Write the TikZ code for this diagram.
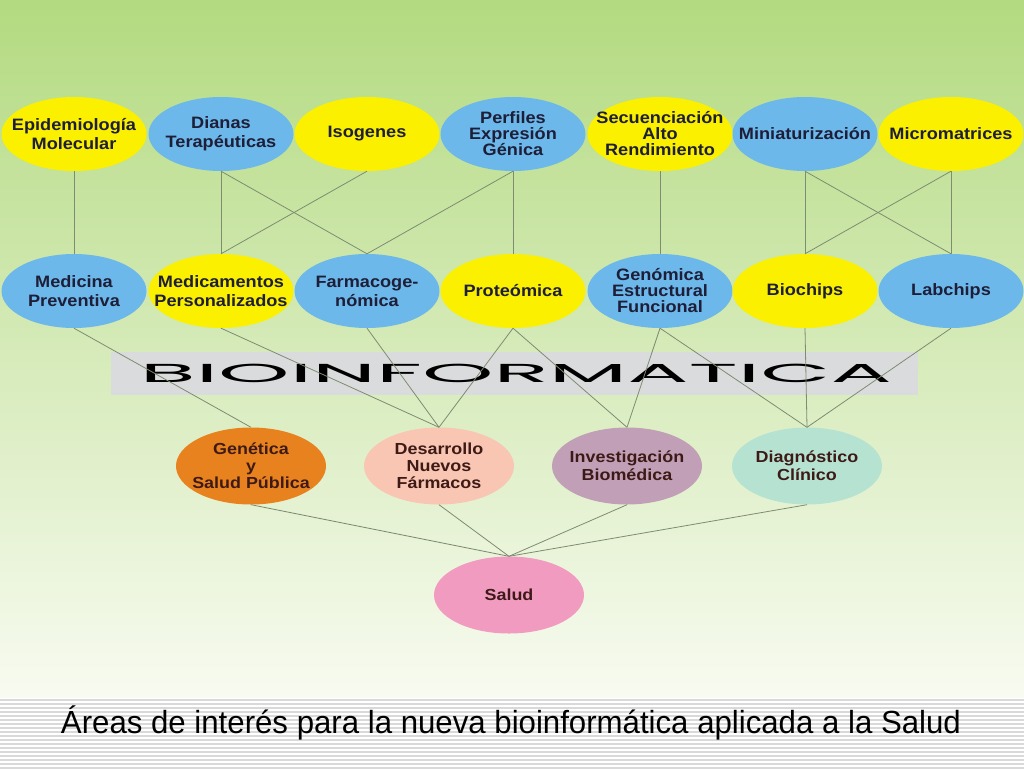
\documentclass[tikz,border=0pt]{standalone}
\usepackage{fontspec}
\usepackage{graphicx}
\usepackage{tikz}
\usetikzlibrary{shapes.geometric}
\setmainfont{Liberation Sans}
\newfontfamily\blobfont[FakeStretch=1.1]{Liberation Sans}
\newfontfamily\areafont[FakeStretch=1.12]{Liberation Sans}
\newfontfamily\bandfont{Poppins}
\definecolor{bgtop}{HTML}{B3DA80}
\definecolor{bgbot}{HTML}{F8FBF1}
\definecolor{yel}{HTML}{FAF000}
\definecolor{sky}{HTML}{6CB8EA}
\definecolor{naranja}{HTML}{E8821E}
\definecolor{salmon}{HTML}{F8C6B2}
\definecolor{malva}{HTML}{C1A0B7}
\definecolor{menta}{HTML}{B6E2D2}
\definecolor{rosa}{HTML}{F29BC1}
\definecolor{banda}{HTML}{DADBDC}
\definecolor{linea}{HTML}{7E8C72}
\definecolor{tinta}{HTML}{1E1E38}
\definecolor{marron}{HTML}{3E1A16}
\tikzset{
	blob/.style={% top and middle rows
		shape=ellipse,
		fill=#1,
		minimum width=145pt,
		minimum height=74pt,
		inner xsep=-24pt, inner ysep=0pt,
		text=tinta,
		align=center,
		font=\blobfont\bfseries\fontsize{16.5}{19}\selectfont
	},
	area/.style={% bottom rows
		shape=ellipse,
		fill=#1,
		minimum width=150pt,
		minimum height=77pt,
		inner xsep=-24pt, inner ysep=-6pt,
		text=marron,
		align=center,
		font=\areafont\bfseries\fontsize{16}{17}\selectfont
	},
	link/.style={draw=linea, line width=0.8pt},
	stripe/.style={draw=black!15, line width=1.5pt}
}
\begin{document}
\begin{tikzpicture}[x=1pt,y=-1pt]
	\useasboundingbox (0,0) rectangle (1024,768);
	\shade [top color=bgtop, bottom color=bgbot] (0,0) rectangle (1024,698);
	\fill [white] (0,698) rectangle (1024,768);
	\foreach \y in {700,704,...,768} \draw [stripe] (0,\y) -- (1024,\y);
	\fill [banda] (111,352) rectangle (918,395);
	\node [font=\bandfont\fontsize{26}{26}\selectfont] (bio) at (516,373) {\resizebox{752pt}{\height}{BIOINFORMATICA}};
	\node [anchor=base, font=\fontsize{32}{32}\selectfont] (titulo) at (511,733) {\resizebox{900pt}{\height}{Áreas de interés para la nueva bioinformática aplicada a la Salud}};
	\node [blob=yel] (t1) at (74,134) {Epidemiología\\Molecular};
	\node [blob=sky] (t2) at (221,134) {Dianas\\Terapéuticas};
	\node [blob=yel] (t3) at (367,134) {Isogenes};
	\node [blob=sky, font=\blobfont\bfseries\fontsize{16.5}{16}\selectfont] (t4) at (513,134) {Perfiles\\Expresión\\Génica};
	\node [blob=yel, font=\blobfont\bfseries\fontsize{16.5}{16}\selectfont] (t5) at (660,134) {Secuenciación\\Alto\\Rendimiento};
	\node [blob=sky] (t6) at (805,134) {Miniaturización};
	\node [blob=yel] (t7) at (951,134) {Micromatrices};
	\node [blob=sky] (m1) at (74,291) {Medicina\\Preventiva};
	\node [blob=yel] (m2) at (221,291) {Medicamentos\\Personalizados};
	\node [blob=sky] (m3) at (367,291) {Farmacoge-\\nómica};
	\node [blob=yel] (m4) at (513,291) {Proteómica};
	\node [blob=sky, font=\blobfont\bfseries\fontsize{16.5}{16}\selectfont] (m5) at (660,291) {Genómica\\Estructural\\Funcional};
	\node [blob=yel] (m6) at (805,291) {Biochips};
	\node [blob=sky] (m7) at (951,291) {Labchips};
	\node [area=naranja] (b1) at (251,466) {Genética\\y\\Salud Pública};
	\node [area=salmon] (b2) at (439,466) {Desarrollo\\Nuevos\\Fármacos};
	\node [area=malva, font=\areafont\bfseries\fontsize{16}{18}\selectfont] (b3) at (627,466) {Investigación\\Biomédica};
	\node [area=menta, font=\areafont\bfseries\fontsize{16}{18}\selectfont] (b4) at (807,466) {Diagnóstico\\Clínico};
	\node [area=rosa] (salud) at (509,595) {Salud};
	\draw [link] (t1.south) edge (m1.north);
	\draw [link] (t2.south) edge (m2.north) edge (m3.north);
	\draw [link] (t3.south) edge (m2.north);
	\draw [link] (t4.south) edge (m3.north) edge (m4.north);
	\draw [link] (t5.south) edge (m5.north);
	\draw [link] (t6.south) edge (m6.north) edge (m7.north);
	\draw [link] (t7.south) edge (m6.north) edge (m7.north);
	\draw [link] (m1.south) edge (b1.north);
	\draw [link] (m2.south) edge (b2.north);
	\draw [link] (m3.south) edge (b2.north);
	\draw [link] (m4.south) edge (b2.north) edge (b3.north);
	\draw [link] (m5.south) edge (b3.north) edge (b4.north);
	\draw [link] (m6.south) edge (b4.north);
	\draw [link] (m7.south) edge (b4.north);
	\draw [link] (b1.south) edge (salud.north);
	\draw [link] (b2.south) edge (salud.north);
	\draw [link] (b3.south) edge (salud.north);
	\draw [link] (b4.south) edge (salud.north);
\end{tikzpicture}
\end{document}
